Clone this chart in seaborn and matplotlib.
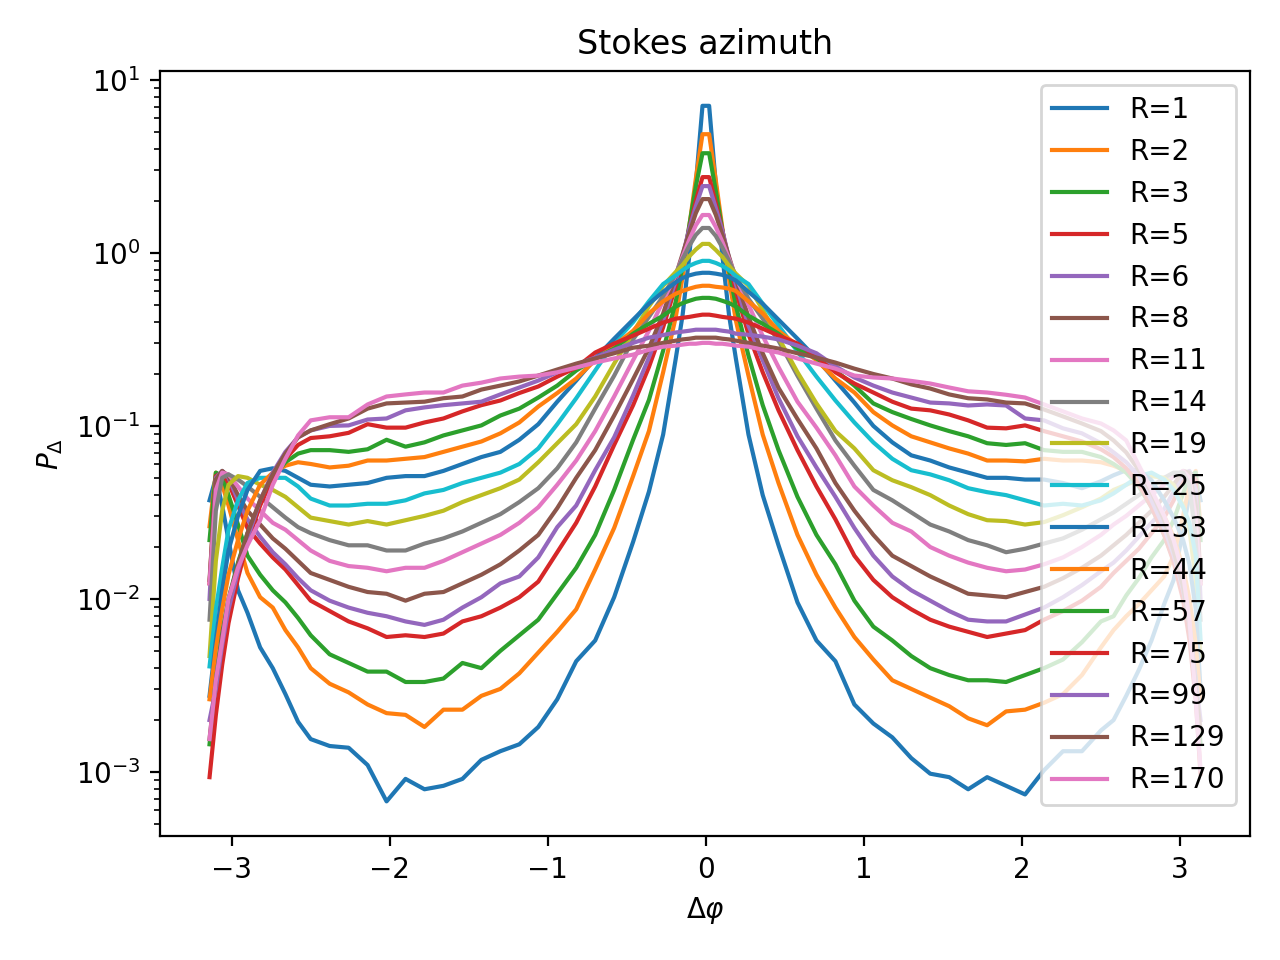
import numpy as np
import matplotlib
matplotlib.use("Agg")
import matplotlib.pyplot as plt
import seaborn as sns

# ----------------------------
# Data (stored as log10 P)
# ----------------------------
phi = [-3.14, -3.10, -3.06, -3.02, -2.96, -2.90, -2.82, -2.74, -2.66, -2.58, -2.50, -2.38,
       -2.26, -2.14, -2.02, -1.90, -1.78, -1.66, -1.54, -1.42, -1.30, -1.18, -1.06, -0.94,
       -0.82, -0.70, -0.58, -0.46, -0.36, -0.27, -0.19, -0.147, -0.105, -0.063, -0.021,
       0.021, 0.063, 0.105, 0.147, 0.19, 0.27, 0.36, 0.46, 0.58, 0.70, 0.82, 0.94,
       1.06, 1.18, 1.30, 1.42, 1.54, 1.66, 1.78, 1.90, 2.02, 2.14, 2.26, 2.38, 2.50,
       2.58, 2.66, 2.74, 2.82, 2.90, 2.96, 3.02, 3.06, 3.10, 3.13]

R_VALUES = [1, 2, 3, 5, 6, 8, 11, 14, 19, 25, 33, 44, 57, 75, 99, 129, 170]

log_r1 = [-1.43, -1.30, -1.46, -1.66, -1.95, -2.08, -2.28, -2.40, -2.55, -2.71, -2.81, -2.85,
          -2.86, -2.96, -3.17, -3.04, -3.10, -3.08, -3.04, -2.93, -2.88, -2.84, -2.74, -2.58,
          -2.36, -2.24, -1.99, -1.67, -1.38, -1.05, -0.61, -0.36, -0.02, 0.40, 0.85,
          0.85, 0.40, -0.02, -0.36, -0.61, -1.05, -1.40, -1.69, -2.02, -2.24, -2.36, -2.61,
          -2.72, -2.80, -2.92, -3.01, -3.03, -3.10, -3.03, -3.08, -3.13, -2.99, -2.88, -2.88,
          -2.76, -2.70, -2.56, -2.41, -2.24, -2.03, -1.89, -1.60, -1.40, -1.30, -1.43]
log_r2 = [-1.58, -1.27, -1.34, -1.46, -1.66, -1.85, -1.99, -2.05, -2.18, -2.28, -2.40, -2.49,
          -2.54, -2.61, -2.66, -2.67, -2.74, -2.64, -2.64, -2.56, -2.52, -2.43, -2.31, -2.19,
          -2.06, -1.83, -1.59, -1.29, -1.03, -0.69, -0.37, -0.14, 0.15, 0.43, 0.686,
          0.686, 0.42, 0.14, -0.15, -0.39, -0.71, -1.05, -1.33, -1.63, -1.86, -2.05, -2.22,
          -2.35, -2.47, -2.52, -2.57, -2.62, -2.69, -2.73, -2.65, -2.64, -2.60, -2.55, -2.44,
          -2.28, -2.18, -2.10, -2.03, -1.95, -1.87, -1.75, -1.52, -1.34, -1.26, -1.58]
log_r3 = [-1.66, -1.27, -1.29, -1.40, -1.57, -1.75, -1.86, -1.95, -2.02, -2.11, -2.21, -2.32,
          -2.37, -2.42, -2.42, -2.48, -2.48, -2.46, -2.37, -2.40, -2.30, -2.21, -2.12, -1.97,
          -1.82, -1.63, -1.37, -1.08, -0.85, -0.565, -0.28, -0.075, 0.156, 0.386, 0.576,
          0.576, 0.36, 0.13, -0.10, -0.305, -0.594, -0.88, -1.14, -1.41, -1.63, -1.80, -2.01,
          -2.16, -2.24, -2.33, -2.40, -2.44, -2.47, -2.47, -2.48, -2.44, -2.40, -2.35, -2.25,
          -2.13, -2.10, -1.98, -1.88, -1.76, -1.66, -1.545, -1.39, -1.29, -1.27, -1.66]
log_r5 = [-1.91, -1.29, -1.27, -1.33, -1.46, -1.59, -1.68, -1.76, -1.83, -1.92, -2.01, -2.07,
          -2.13, -2.17, -2.22, -2.21, -2.22, -2.20, -2.13, -2.10, -2.05, -1.99, -1.90, -1.73,
          -1.56, -1.35, -1.11, -0.88, -0.66, -0.43, -0.19, -0.035, 0.138, 0.30, 0.438,
          0.438, 0.288, 0.127, -0.046, -0.22, -0.47, -0.69, -0.91, -1.14, -1.35, -1.54, -1.75,
          -1.89, -1.99, -2.06, -2.12, -2.16, -2.19, -2.22, -2.20, -2.18, -2.12, -2.07, -2.01,
          -1.93, -1.85, -1.78, -1.71, -1.62, -1.53, -1.43, -1.30, -1.27, -1.31, -1.91]
log_r6 = [-2.00, -1.30, -1.26, -1.30, -1.43, -1.54, -1.64, -1.73, -1.80, -1.88, -1.95, -2.01,
          -2.05, -2.08, -2.10, -2.13, -2.15, -2.12, -2.05, -1.99, -1.91, -1.87, -1.76, -1.585,
          -1.46, -1.256, -1.066, -0.824, -0.605, -0.39, -0.16, -0.017, 0.138, 0.27, 0.386,
          0.386, 0.26, 0.127, -0.03, -0.18, -0.42, -0.62, -0.84, -1.06, -1.24, -1.41, -1.59,
          -1.75, -1.87, -1.95, -2.01, -2.07, -2.12, -2.13, -2.13, -2.09, -2.05, -1.99, -1.92,
          -1.84, -1.79, -1.72, -1.64, -1.56, -1.48, -1.38, -1.28, -1.26, -1.37, -2.00]
log_r8 = [-1.89, -1.31, -1.26, -1.29, -1.40, -1.49, -1.57, -1.65, -1.71, -1.78, -1.85, -1.89,
          -1.93, -1.96, -1.97, -2.01, -1.97, -1.96, -1.91, -1.86, -1.80, -1.72, -1.63, -1.475,
          -1.30, -1.14, -0.94, -0.73, -0.55, -0.35, -0.13, -0.006, 0.115, 0.23, 0.311,
          0.311, 0.22, 0.104, -0.023, -0.15, -0.37, -0.58, -0.78, -0.96, -1.13, -1.33, -1.49,
          -1.63, -1.75, -1.81, -1.87, -1.92, -1.97, -1.98, -1.99, -1.96, -1.93, -1.88, -1.82,
          -1.75, -1.69, -1.63, -1.56, -1.49, -1.41, -1.34, -1.26, -1.27, -1.46, -1.89]
log_r11 = [-1.91, -1.37, -1.27, -1.28, -1.35, -1.42, -1.49, -1.56, -1.60, -1.66, -1.72, -1.78,
           -1.81, -1.82, -1.84, -1.82, -1.82, -1.78, -1.73, -1.68, -1.63, -1.56, -1.47, -1.34,
           -1.20, -1.03, -0.83, -0.62, -0.45, -0.277, -0.127, -0.023, 0.075, 0.16, 0.219,
           0.219, 0.15, 0.063, -0.035, -0.14, -0.30, -0.48, -0.66, -0.86, -1.01, -1.17, -1.35,
           -1.46, -1.56, -1.61, -1.70, -1.75, -1.79, -1.82, -1.84, -1.83, -1.80, -1.76, -1.70,
           -1.63, -1.57, -1.52, -1.46, -1.40, -1.34, -1.29, -1.26, -1.30, -1.54, -1.91]
log_r14 = [-2.12, -1.49, -1.30, -1.28, -1.31, -1.35, -1.41, -1.47, -1.53, -1.585, -1.62, -1.66,
           -1.69, -1.69, -1.72, -1.72, -1.68, -1.65, -1.61, -1.56, -1.51, -1.44, -1.36, -1.245,
           -1.095, -0.90, -0.71, -0.50, -0.37, -0.25, -0.12, -0.035, 0.04, 0.104, 0.144,
           0.144, 0.098, 0.03, -0.046, -0.133, -0.265, -0.38, -0.507, -0.71, -0.90, -1.084, -1.23,
           -1.37, -1.43, -1.50, -1.57, -1.61, -1.66, -1.69, -1.73, -1.71, -1.68, -1.65, -1.60,
           -1.54, -1.50, -1.45, -1.40, -1.35, -1.30, -1.27, -1.27, -1.34, -1.66, -2.12]
log_r19 = [-2.33, -1.78, -1.49, -1.34, -1.29, -1.30, -1.34, -1.37, -1.41, -1.47, -1.53, -1.55,
           -1.57, -1.55, -1.57, -1.545, -1.52, -1.49, -1.44, -1.40, -1.36, -1.31, -1.21, -1.10,
           -0.99, -0.83, -0.64, -0.46, -0.31, -0.19, -0.11, -0.07, -0.02, 0.02, 0.052,
           0.052, 0.017, -0.023, -0.075, -0.12, -0.19, -0.33, -0.49, -0.69, -0.87, -1.03, -1.13,
           -1.256, -1.314, -1.354, -1.40, -1.46, -1.51, -1.545, -1.55, -1.57, -1.556, -1.516, -1.47,
           -1.42, -1.37, -1.34, -1.31, -1.29, -1.30, -1.34, -1.46, -1.60, -1.89, -2.33]
log_r25 = [-2.39, -2.06, -1.82, -1.60, -1.43, -1.33, -1.30, -1.30, -1.30, -1.35, -1.42, -1.46,
           -1.46, -1.45, -1.45, -1.43, -1.39, -1.37, -1.33, -1.30, -1.27, -1.22, -1.13, -0.99,
           -0.84, -0.68, -0.52, -0.40, -0.28, -0.18, -0.13, -0.10, -0.075, -0.058, -0.046,
           -0.046, -0.058, -0.075, -0.10, -0.133, -0.18, -0.294, -0.42, -0.57, -0.715, -0.853, -0.98,
           -1.095, -1.19, -1.256, -1.28, -1.314, -1.36, -1.383, -1.40, -1.43, -1.46, -1.45, -1.46,
           -1.43, -1.39, -1.34, -1.29, -1.27, -1.31, -1.37, -1.47, -1.56, -1.75, -2.23]
log_r33 = [-2.56, -2.24, -1.95, -1.72, -1.52, -1.37, -1.26, -1.245, -1.26, -1.30, -1.34, -1.35,
           -1.34, -1.33, -1.30, -1.29, -1.29, -1.26, -1.22, -1.18, -1.15, -1.08, -0.99, -0.86,
           -0.738, -0.61, -0.496, -0.386, -0.294, -0.225, -0.17, -0.145, -0.13, -0.12, -0.115,
           -0.115, -0.12, -0.127, -0.14, -0.16, -0.225, -0.294, -0.386, -0.496, -0.61, -0.738, -0.865,
           -1.0, -1.095, -1.17, -1.20, -1.24, -1.27, -1.30, -1.30, -1.31, -1.31, -1.33, -1.36,
           -1.32, -1.285, -1.256, -1.256, -1.314, -1.43, -1.53, -1.66, -1.80, -2.06, -2.52]
log_r44 = [-2.58, -2.29, -2.06, -1.86, -1.66, -1.49, -1.34, -1.27, -1.23, -1.21, -1.22, -1.24,
           -1.23, -1.20, -1.20, -1.19, -1.18, -1.15, -1.12, -1.09, -1.043, -0.98, -0.888, -0.81,
           -0.726, -0.62, -0.536, -0.45, -0.35, -0.28, -0.236, -0.22, -0.207, -0.196, -0.19,
           -0.19, -0.196, -0.20, -0.207, -0.22, -0.28, -0.35, -0.45, -0.536, -0.62, -0.726, -0.807,
           -0.92, -0.997, -1.06, -1.095, -1.13, -1.16, -1.20, -1.20, -1.205, -1.19, -1.20, -1.20,
           -1.21, -1.23, -1.26, -1.31, -1.40, -1.52, -1.64, -1.82, -2.00, -2.26, -2.58]
log_r57 = [-2.84, -2.47, -2.20, -2.00, -1.79, -1.62, -1.44, -1.30, -1.21, -1.16, -1.14, -1.14,
           -1.15, -1.135, -1.08, -1.12, -1.095, -1.055, -1.026, -0.997, -0.94, -0.90, -0.836, -0.767,
           -0.68, -0.61, -0.553, -0.467, -0.41, -0.363, -0.31, -0.29, -0.277, -0.265, -0.26,
           -0.26, -0.265, -0.277, -0.29, -0.31, -0.363, -0.41, -0.467, -0.553, -0.61, -0.68, -0.767,
           -0.87, -0.92, -0.96, -0.997, -1.03, -1.06, -1.10, -1.11, -1.10, -1.14, -1.15, -1.15,
           -1.18, -1.22, -1.27, -1.35, -1.47, -1.63, -1.775, -1.98, -2.18, -2.47, -2.84]
log_r75 = [-3.03, -2.67, -2.38, -2.14, -1.88, -1.67, -1.46, -1.30, -1.19, -1.11, -1.07, -1.06,
           -1.04, -0.99, -1.01, -1.01, -0.98, -0.957, -0.916, -0.88, -0.853, -0.81, -0.772, -0.715,
           -0.663, -0.576, -0.524, -0.478, -0.438, -0.403, -0.38, -0.375, -0.37, -0.363, -0.357,
           -0.357, -0.363, -0.37, -0.375, -0.38, -0.403, -0.438, -0.478, -0.524, -0.60, -0.69, -0.755,
           -0.807, -0.86, -0.90, -0.91, -0.934, -0.968, -1.01, -1.014, -0.997, -1.03, -1.06, -1.09,
           -1.135, -1.18, -1.245, -1.337, -1.47, -1.63, -1.787, -2.006, -2.236, -2.58, -3.01]
log_r99 = [-2.70, -2.52, -2.265, -2.06, -1.84, -1.65, -1.43, -1.27, -1.15, -1.066, -1.026, -1.0,
           -0.997, -0.963, -0.957, -0.91, -0.893, -0.88, -0.87, -0.86, -0.818, -0.778, -0.738, -0.69,
           -0.646, -0.605, -0.56, -0.52, -0.49, -0.475, -0.46, -0.455, -0.45, -0.444, -0.444,
           -0.444, -0.444, -0.45, -0.455, -0.467, -0.473, -0.484, -0.50, -0.536, -0.58, -0.655, -0.72,
           -0.767, -0.807, -0.836, -0.865, -0.87, -0.882, -0.876, -0.882, -0.957, -0.968, -1.014, -1.043,
           -1.10, -1.153, -1.21, -1.29, -1.43, -1.59, -1.746, -1.95, -2.15, -2.47, -2.70]
log_r129 = [-2.81, -2.47, -2.21, -2.006, -1.80, -1.62, -1.43, -1.28, -1.16, -1.066, -1.026, -0.99,
            -0.957, -0.90, -0.87, -0.865, -0.86, -0.84, -0.83, -0.79, -0.767, -0.743, -0.709, -0.674,
            -0.64, -0.61, -0.58, -0.548, -0.536, -0.52, -0.507, -0.50, -0.496, -0.49, -0.49,
            -0.49, -0.49, -0.496, -0.50, -0.507, -0.52, -0.536, -0.553, -0.58, -0.605, -0.634, -0.669,
            -0.70, -0.726, -0.76, -0.784, -0.818, -0.84, -0.847, -0.865, -0.87, -0.905, -0.945, -0.986,
            -1.03, -1.084, -1.153, -1.256, -1.383, -1.545, -1.72, -1.93, -2.15, -2.52, -2.755]
log_r170 = [-2.81, -2.47, -2.24, -2.0, -1.82, -1.69, -1.545, -1.34, -1.19, -1.055, -0.968, -0.95,
            -0.95, -0.876, -0.83, -0.818, -0.807, -0.807, -0.767, -0.75, -0.726, -0.715, -0.709, -0.69,
            -0.663, -0.634, -0.61, -0.588, -0.56, -0.542, -0.536, -0.53, -0.525, -0.525, -0.52,
            -0.52, -0.525, -0.525, -0.53, -0.536, -0.542, -0.56, -0.576, -0.61, -0.64, -0.669, -0.709,
            -0.72, -0.726, -0.74, -0.755, -0.778, -0.80, -0.807, -0.82, -0.836, -0.876, -0.916, -0.957,
            -0.986, -1.026, -1.084, -1.228, -1.37, -1.52, -1.66, -1.86, -2.12, -2.58, -2.985]

curves = [log_r1, log_r2, log_r3, log_r5, log_r6, log_r8, log_r11, log_r14, log_r19,
          log_r25, log_r33, log_r44, log_r57, log_r75, log_r99, log_r129, log_r170]

# ----------------------------
# Plot
# ----------------------------
fig, ax = plt.subplots(figsize=(6.4, 4.8), dpi=200)

for i, (r, logp) in enumerate(zip(R_VALUES, curves)):
    sns.lineplot(x=phi, y=10.0 ** np.asarray(logp), color=f"C{i % 10}",
                 label=f"R={r}", ax=ax, sort=False, estimator=None)

ax.set_yscale("log")
ax.set_title("Stokes azimuth")
ax.set_xlabel(r"$\Delta\varphi$")
ax.set_ylabel(r"$P_\Delta$")
ax.legend(loc="upper right")

fig.subplots_adjust(left=0.125, right=0.9766, top=0.926, bottom=0.129)
fig.savefig("out.png", dpi=200)
